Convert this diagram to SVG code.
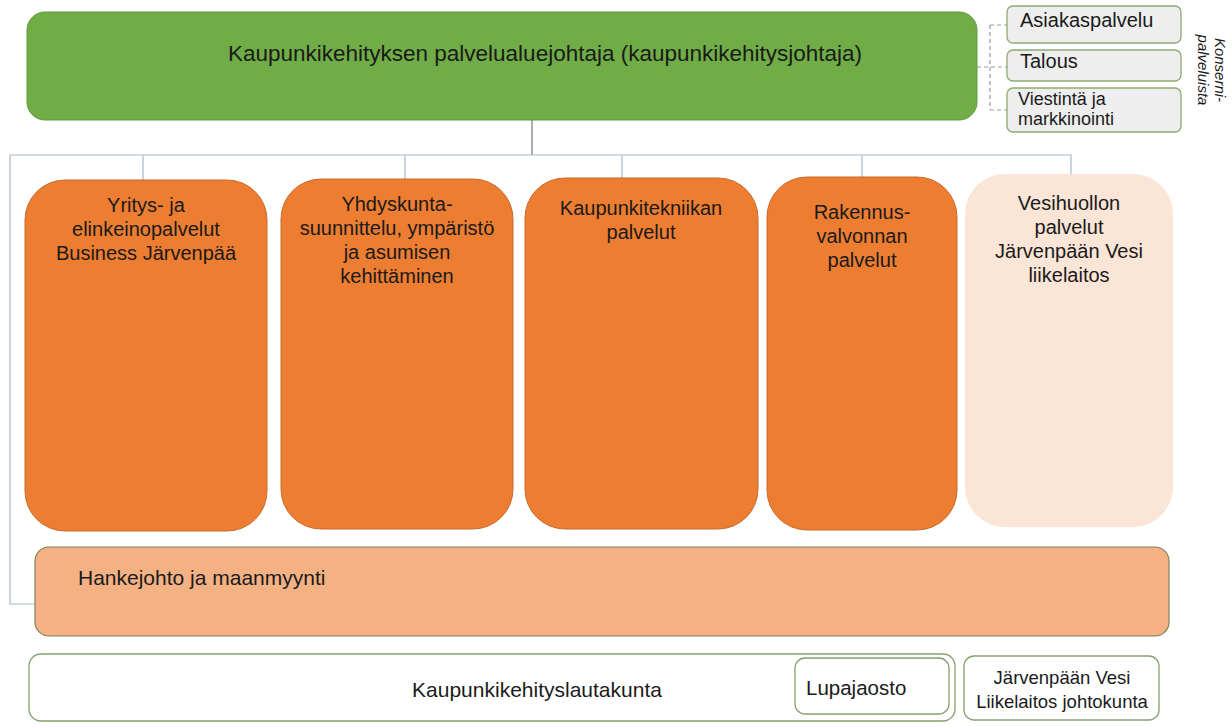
<svg xmlns="http://www.w3.org/2000/svg" width="1232" height="727" viewBox="0 0 1232 727">
<style>
text{font-family:"Liberation Sans",Arial,sans-serif;fill:#1a1a1a}
.t{font-size:20px;text-anchor:middle}
.org{fill:#ED7D31;stroke:#c9692a;stroke-width:1}
.side{fill:#eeeeee;stroke:#8faa72;stroke-width:1.3}
.wht{fill:#ffffff;stroke:#86a070;stroke-width:1.3}
.ln{stroke:#a9b7c9;stroke-width:1.2;fill:none}
.dash{stroke:#999;stroke-width:1.2;stroke-dasharray:4 3;fill:none}
</style>
<g id="connectors">
<line class="ln" x1="532" y1="120" x2="532" y2="155" style="stroke:#6f7785"/>
<polyline class="ln" points="35,604 10,604 10,155 1071,155 1071,175"/>
<line class="ln" x1="143" y1="155" x2="143" y2="180"/>
<line class="ln" x1="405" y1="155" x2="405" y2="179"/>
<line class="ln" x1="622" y1="155" x2="622" y2="178"/>
<line class="ln" x1="862" y1="155" x2="862" y2="177"/>
<line class="dash" x1="977" y1="67" x2="1007" y2="67"/>
<line class="dash" x1="990" y1="25" x2="990" y2="110"/>
<line class="dash" x1="990" y1="25" x2="1007" y2="25"/>
<line class="dash" x1="990" y1="110" x2="1007" y2="110"/>
</g>
<g id="n-johtaja">
<rect x="27" y="12" width="950" height="108" rx="18" fill="#70AD47" stroke="#63983f"/>
<text x="545" y="61" style="font-size:22.5px;text-anchor:middle">Kaupunkikehityksen palvelualuejohtaja (kaupunkikehitysjohtaja)</text>
</g>
<g id="n-asiakaspalvelu">
<rect class="side" x="1007" y="6" width="174" height="37" rx="6"/>
<text x="1020" y="27" style="font-size:20px">Asiakaspalvelu</text>
</g>
<g id="n-talous">
<rect class="side" x="1007" y="50" width="174" height="31" rx="6"/>
<text x="1020" y="68" style="font-size:20px">Talous</text>
</g>
<g id="n-viestinta">
<rect class="side" x="1007" y="88" width="174" height="44" rx="6"/>
<text x="1018" y="105" style="font-size:18px">Viestintä ja</text>
<text x="1018" y="125" style="font-size:18px">markkinointi</text>
</g>
<g id="n-konserni">
<text transform="translate(1215,70) rotate(90)" style="font-size:15px;font-style:italic;text-anchor:middle">Konserni-</text>
<text transform="translate(1198,70) rotate(90)" style="font-size:15px;font-style:italic;text-anchor:middle">palveluista</text>
</g>
<g id="n-yritys">
<rect class="org" x="25" y="180" width="242" height="351" rx="40"/>
<text class="t" x="146" y="212">Yritys- ja</text>
<text class="t" x="146" y="236">elinkeinopalvelut</text>
<text class="t" x="146" y="260">Business Järvenpää</text>
</g>
<g id="n-yhdyskunta">
<rect class="org" x="281" y="179" width="232" height="350" rx="40"/>
<text class="t" x="397" y="211">Yhdyskunta-</text>
<text class="t" x="397" y="235">suunnittelu, ympäristö</text>
<text class="t" x="397" y="259">ja asumisen</text>
<text class="t" x="397" y="283">kehittäminen</text>
</g>
<g id="n-kaupunkitekniikka">
<rect class="org" x="525" y="178" width="233" height="351" rx="40"/>
<text class="t" x="641" y="215">Kaupunkitekniikan</text>
<text class="t" x="641" y="239">palvelut</text>
</g>
<g id="n-rakennusvalvonta">
<rect class="org" x="767" y="177" width="190" height="353" rx="40"/>
<text class="t" x="862" y="219">Rakennus-</text>
<text class="t" x="862" y="243">valvonnan</text>
<text class="t" x="862" y="267">palvelut</text>
</g>
<g id="n-vesihuolto">
<rect x="965" y="174" width="208" height="353" rx="40" fill="#FBE5D6"/>
<text class="t" x="1069" y="210">Vesihuollon</text>
<text class="t" x="1069" y="234">palvelut</text>
<text class="t" x="1069" y="258">Järvenpään Vesi</text>
<text class="t" x="1069" y="282">liikelaitos</text>
</g>
<g id="n-hankejohto">
<rect x="35" y="547" width="1134" height="89" rx="14" fill="#F4B183" stroke="#80805e" stroke-width="1.2"/>
<text x="78" y="585" style="font-size:21px">Hankejohto ja maanmyynti</text>
</g>
<g id="n-lautakunta">
<rect class="wht" x="29" y="654" width="926" height="67" rx="12"/>
<text x="537" y="697" style="font-size:21px;text-anchor:middle">Kaupunkikehityslautakunta</text>
</g>
<g id="n-lupajaosto">
<rect class="wht" x="795" y="658" width="154" height="56" rx="10"/>
<text x="806" y="695" style="font-size:20.5px">Lupajaosto</text>
</g>
<g id="n-vesijohtokunta">
<rect class="wht" x="964" y="656" width="195" height="64" rx="10"/>
<text x="1062" y="684" style="font-size:18.5px;text-anchor:middle">Järvenpään Vesi</text>
<text x="1062" y="708" style="font-size:18.5px;text-anchor:middle">Liikelaitos johtokunta</text>
</g>
</svg>
